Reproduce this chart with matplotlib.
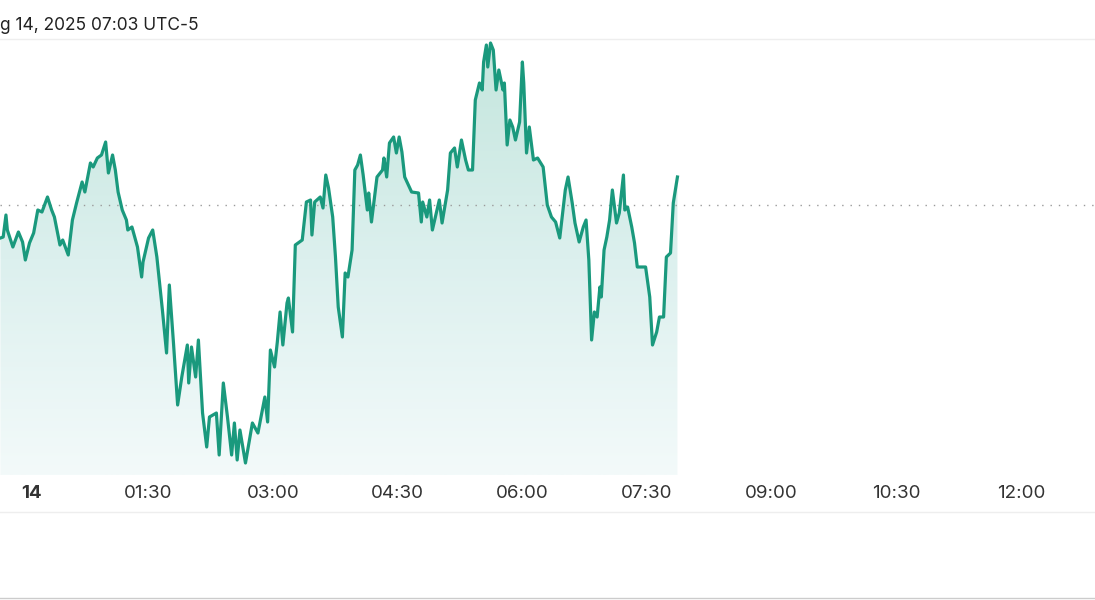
import matplotlib
matplotlib.use("Agg")
import matplotlib.pyplot as plt
import numpy as np
from matplotlib.colors import LinearSegmentedColormap
from matplotlib.patches import Polygon
from matplotlib.lines import Line2D
from matplotlib.transforms import ScaledTranslation

# minutes after midnight (Aug 14) and price
minutes = [-17, -15, -13, -12, -8, -4, -1, 1, 4, 7, 10, 13, 17, 20, 22, 26, 28, 32, 35, 38,
           42, 44, 48, 50, 53, 56, 59, 61, 64, 66, 68, 71, 74, 75, 78, 80, 82, 85, 86, 90,
           93, 96, 100, 103, 105, 108, 111, 114, 118, 119, 121, 124, 126, 129, 132, 134, 139, 141, 144, 147,
           150, 152, 154, 156, 160, 165, 169, 174, 176, 178, 181, 183, 185, 187, 190, 191, 194, 196, 201, 204,
           207, 208, 210, 214, 216, 218, 220, 223, 225, 227, 230, 232, 234, 237, 239, 241, 243, 245, 248, 249,
           251, 255, 259, 260, 262, 264, 267, 269, 271, 273, 275, 277, 280, 285, 287, 288, 291, 293, 295, 298,
           300, 302, 306, 308, 311, 313, 316, 319, 321, 324, 326, 329, 331, 332, 334, 335, 337, 339, 341, 343,
           346, 347, 349, 351, 353, 355, 358, 360, 361, 363, 365, 368, 371, 375, 378, 381, 384, 387, 391, 393,
           396, 398, 401, 404, 406, 408, 410, 412, 414, 416, 417, 419, 421, 423, 425, 428, 430, 433, 434, 436,
           439, 441, 443, 449, 452, 454, 457, 459, 462, 464, 467, 469, 472]
price = [99.67, 99.68, 99.90, 99.75, 99.58, 99.73, 99.63, 99.45, 99.62, 99.72, 99.95, 99.93, 100.08, 99.95, 99.88, 99.60, 99.65, 99.50, 99.85, 100.02,
         100.23, 100.13, 100.42, 100.38, 100.47, 100.50, 100.63, 100.32, 100.50, 100.35, 100.13, 99.95, 99.85, 99.75, 99.78, 99.68, 99.58, 99.28, 99.43, 99.67,
         99.75, 99.48, 98.95, 98.52, 99.20, 98.62, 98.00, 98.28, 98.60, 98.22, 98.58, 98.28, 98.65, 97.92, 97.58, 97.88, 97.92, 97.50, 98.22, 97.88,
         97.50, 97.82, 97.45, 97.75, 97.42, 97.82, 97.72, 98.08, 97.83, 98.55, 98.38, 98.63, 98.93, 98.60, 99.02, 99.07, 98.73, 99.60, 99.65, 100.03,
         100.05, 99.70, 100.03, 100.08, 99.97, 100.30, 100.17, 99.88, 99.48, 98.98, 98.68, 99.32, 99.28, 99.55, 100.35, 100.40, 100.50, 100.30, 99.95, 100.12,
         99.83, 100.28, 100.35, 100.47, 100.28, 100.62, 100.68, 100.52, 100.68, 100.53, 100.28, 100.22, 100.13, 100.12, 99.83, 100.03, 99.88, 100.05, 99.75, 99.93,
         100.05, 99.82, 100.15, 100.52, 100.57, 100.38, 100.65, 100.45, 100.35, 100.35, 101.05, 101.22, 101.15, 101.43, 101.60, 101.38, 101.62, 101.55, 101.15, 101.35,
         101.15, 101.22, 100.60, 100.85, 100.78, 100.65, 100.83, 101.43, 101.22, 100.52, 100.78, 100.45, 100.47, 100.38, 100.00, 99.88, 99.83, 99.67, 100.15, 100.28,
         100.02, 99.82, 99.63, 99.78, 99.85, 99.45, 98.65, 98.93, 98.88, 99.18, 99.08, 99.55, 99.68, 99.85, 100.15, 99.82, 99.92, 100.30, 99.95, 99.98,
         99.78, 99.62, 99.38, 99.38, 99.08, 98.60, 98.73, 98.88, 98.88, 99.48, 99.52, 100.02, 100.28]
prev_close = 100.00

tick_pos = [0, 90, 180, 270, 360, 450, 540, 630, 720]
tick_labels = ["14", "01:30", "03:00", "04:30", "06:00", "07:30", "09:00", "10:30", "12:00"]
header = "g 14, 2025 07:03 UTC-5"

line_color = "#1a997d"
plt.rcParams["font.family"] = ["Inter", "DejaVu Sans"]

fig = plt.figure(figsize=(10.95, 6), dpi=100)
ax = fig.add_axes([0, 1 - 475 / 600, 1, (475 - 39) / 600])
ymin, ymax = 97.30, 101.66
ax.set_xlim(-17.3, 773.6)
ax.set_ylim(ymin, ymax)

# gradient under the line
grad = np.linspace(0, 1, 256).reshape(-1, 1)
cmap = LinearSegmentedColormap.from_list("fade", ["#f3fafa", "#dcf0ee", "#c4e6dd"])
im = ax.imshow(grad, extent=[minutes[0], minutes[-1], ymin, max(price)], origin="lower",
               aspect="auto", cmap=cmap, zorder=1)
verts = [(minutes[0], ymin)] + list(zip(minutes, price)) + [(minutes[-1], ymin)]
clip = Polygon(verts, closed=True, facecolor="none", edgecolor="none")
ax.add_patch(clip)
im.set_clip_path(clip)

ax.plot(minutes, price, color=line_color, lw=2.3, zorder=3, solid_joinstyle="round")
ax.axhline(prev_close, color="#9a9a9a", lw=1, linestyle=(0, (1, 5)), zorder=2)

for s in ax.spines.values():
    s.set_visible(False)
ax.set_yticks([])
ax.set_xticks(tick_pos)
ax.set_xticklabels(tick_labels, fontsize=13.5, color="#333333")
ax.tick_params(axis="x", length=0, pad=7)
first = ax.get_xticklabels()[0]
first.set_fontweight("bold")
first.set_transform(first.get_transform() + ScaledTranslation(0.08, 0, fig.dpi_scale_trans))

# separators
for yp, c in [(39, "#eeeeee"), (512, "#eeeeee"), (598, "#cccccc")]:
    fig.add_artist(Line2D([0, 1], [1 - yp / 600] * 2, color=c, lw=1))

fig.text(0, 1 - 29.5 / 600, header, fontsize=12.5, color="#222222", ha="left", va="baseline")

fig.savefig("out.png", dpi=100)
